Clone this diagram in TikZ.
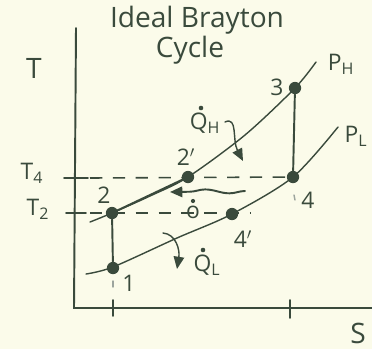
\documentclass[tikz,border=0pt]{standalone}
\usepackage{fontspec}
\setmainfont{Open Sans}
\usetikzlibrary{arrows.meta,decorations.pathmorphing}
\definecolor{ink}{HTML}{3A4A3C}
\definecolor{paper}{HTML}{FBFBEA}
\begin{document}
\begin{tikzpicture}[x=0.02cm,y=-0.02cm,
  ink line/.style={draw=ink,line width=1.1pt,line cap=round},
  thin line/.style={draw=ink,line width=0.8pt,line cap=round},
  dashline/.style={draw=ink,line width=0.9pt,dash pattern=on 7pt off 6pt},
  statept/.style={circle,fill=ink,inner sep=0pt,minimum size=7pt},
  lbl/.style={text=ink,font=\fontsize{13}{14}\selectfont,inner sep=0pt},
  bigl/.style={text=ink,font=\fontsize{16}{17}\selectfont,inner sep=0pt},
  tip/.style={-{Triangle[length=7pt,width=6pt]}}]
\fill[paper] (0,0) rectangle (372,349);
\useasboundingbox (0,0) rectangle (372,349);
% axes
\coordinate (ytop) at (76,28);
\coordinate (orig) at (74,308);
\coordinate (xend) at (372,308);
\draw[ink line] (ytop) -- (orig) -- (xend);
% ticks
\draw[ink line] (113,300) -- (113,316);
\draw[ink line] (290,300) -- (290,318);
\draw[ink line] (64,178) -- (88,178);
\draw[ink line] (66,213) -- (86,213);
% states
\node[statept] (p1) at (113,268) {};
\node[statept] (p2) at (112,213) {};
\node[statept] (p2p) at (188,177) {};
\node[statept] (p3) at (295,88) {};
\node[statept] (p4) at (293,177) {};
\node[statept] (p4p) at (232,214) {};
% dashed isotherms
\coordinate (t4a) at (90,178);
\coordinate (t2a) at (90,213);
\coordinate (t2b) at (250,213);
\draw[dashline] (t4a) -- (p4);
\draw[dashline] (t2a) -- (t2b);
% pressure lines
\draw[thin line] plot[smooth] coordinates {(90,222) (112,213) (150,196) (188,177) (245,135) (295,88) (316,62)};
\draw[ink line] (p2.center) -- (p2p.center);
\draw[thin line] plot[smooth] coordinates {(86,274) (113,267) (177,238) (232,214) (293,177) (338,127)};
% vertical processes
\draw[ink line] (p1) -- (p2);
\draw[ink line] (p3) -- (p4);
% faint marks
\draw[thin line,draw=ink!50] (113,281) -- (113,287);
\draw[thin line,draw=ink!50] (294,195) -- (295,200);
% heat arrows
\draw[thin line,tip] (225,122) .. controls (238,116) and (232,140) .. (243,161);
\draw[thin line,tip] (163,233) .. controls (176,234) and (180,250) .. (177,269);
\draw[ink line,tip,decorate,decoration={snake,amplitude=1.2pt,segment length=28pt,post length=8pt}] (245,191) -- (170,192);
% labels
\node[bigl] (title1) at (197,20) {Ideal Brayton};
\node[bigl] (title2) at (190,50) {Cycle};
\node[bigl] (tlab) at (34,68) {T};
\node[bigl] (slab) at (358,333) {S};
\node[lbl] (l3) at (277,87) {3};
\node[lbl] (l2) at (104,195) {2};
\node[lbl] (l2p) at (186,157) {2$'$};
\node[lbl] (l4) at (308,200) {4};
\node[lbl] (l4p) at (243,239) {4$'$};
\node[lbl] (l1) at (129,283) {1};
\node[lbl] (lph) at (341,64) {P\textsubscript{H}};
\node[lbl] (lpl) at (356,136) {P\textsubscript{L}};
\node[lbl] (lt4) at (32,173) {T\textsubscript{4}};
\node[lbl] (lt2) at (38,209) {T\textsubscript{2}};
\node[lbl] (lqh) at (205,123) {Q\textsubscript{H}};
\node[lbl] (lql) at (207,265) {Q\textsubscript{L}};
\node[lbl] (lq0) at (193,212) {o};
% dots over the heat symbols
\fill[ink] (201,108) circle (1.3pt);
\fill[ink] (203,250) circle (1.3pt);
\fill[ink] (193,201) circle (1.2pt);
\end{tikzpicture}
\end{document}
